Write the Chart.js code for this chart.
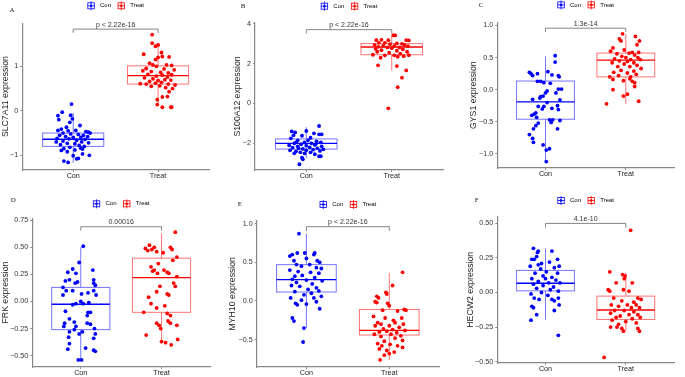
<!DOCTYPE html>
<html>
<head>
<meta charset="utf-8">
<script src="https://cdn.jsdelivr.net/npm/chart.js@4/dist/chart.umd.min.js"></script>
<style>
html, body { margin: 0; padding: 0; background: #fff; overflow: hidden; }
#wrap { position: relative; width: 685px; height: 377px; overflow: hidden; background: #fff; }
canvas { position: absolute; }
</style>
</head>
<body>
<div id="wrap"></div>
<script>
// groups and panel texts
const groups = ['Con', 'Treat'];
const letters = ['A', 'B', 'C', 'D', 'E', 'F'];
const genes = ['SLC7A11', 'S100A12', 'GYS1', 'FRK', 'MYH10', 'HECW2'];
const pLabels = ['p < 2.22e-16', 'p < 2.22e-16', '1.3e-14', '0.00016', 'p < 2.22e-16', '4.1e-10'];

// y axes
const yTicks = [[-1, 0, 1], [-2, 0, 2, 4], [-1, -0.5, 0, 0.5, 1], [-0.5, -0.25, 0, 0.25, 0.5, 0.75], [-0.5, 0, 0.5, 1], [-0.5, -0.25, 0, 0.25, 0.5]];
const yDecimals = [0, 0, 1, 2, 1, 2];
const yRange = [[-1.33, 1.97], [-3.34, 4.05], [-1.22, 1.05], [-0.605, 0.77], [-0.853, 1.04], [-0.51, 0.55]];
// bracket level and end of its little legs
const bracketY = [[1.835, 1.75], [3.71, 3.51], [0.958, 0.9], [0.69, 0.655], [0.96, 0.905], [0.5, 0.47]];

// box stats: [lower whisker, q1, median, q3, upper whisker] for Con, Treat
const boxA = [[-1.17, -0.80, -0.64, -0.50, -0.05], [0.11, 0.60, 0.79, 1.01, 1.52]];
const boxB = [[-2.75, -2.29, -2.0, -1.78, -1.19], [1.66, 2.45, 2.84, 3.01, 3.43]];
const boxC = [[-1.13, -0.46, -0.19, 0.135, 0.52], [-0.22, 0.20, 0.46, 0.57, 0.865]];
const boxD = [[-0.55, -0.26, -0.025, 0.13, 0.50], [-0.39, -0.10, 0.22, 0.40, 0.63]];
const boxE = [[-0.35, 0.116, 0.276, 0.47, 0.87], [-0.76, -0.44, -0.38, -0.11, 0.36]];
const boxF = [[-0.197, 0.012, 0.067, 0.16, 0.32], [-0.28, -0.195, -0.127, -0.026, 0.14]];

// jittered samples: [jitter offset, value]
const conA = [[-0.02,0.15],[-0.13,-0.03],[-0.18,-0.11],[-0.17,-0.20],[-0.03,-0.10],[-0.01,-0.18],[-0.04,-0.26],[0.08,-0.33],[-0.08,-0.37],[-0.14,-0.41],[-0.18,-0.44],[-0.06,-0.45],[0.03,-0.44],[0.15,-0.47],[0.18,-0.48],[0.2,-0.50],[-0.12,-0.50],[-0.03,-0.52],[0.06,-0.53],[0.12,-0.55],[-0.16,-0.55],[-0.09,-0.58],[0.0,-0.60],[0.09,-0.60],[0.17,-0.58],[-0.19,-0.62],[-0.05,-0.63],[0.04,-0.66],[0.14,-0.64],[-0.12,-0.68],[-0.2,-0.70],[0.1,-0.70],[0.18,-0.72],[-0.07,-0.73],[0.02,-0.74],[-0.15,-0.76],[0.07,-0.78],[0.13,-0.80],[-0.04,-0.82],[-0.11,-0.85],[0.11,-0.86],[-0.14,-0.89],[-0.07,-0.92],[0.02,-0.88],[0.09,-0.84],[0.11,-0.97],[0.19,-1.0],[0.0,-1.01],[0.04,-1.08],[0.06,-1.07],[-0.11,-1.13],[-0.06,-1.16]];
const treatA = [[-0.07,1.71],[-0.07,1.52],[0.0,1.48],[-0.03,1.45],[0.04,1.31],[-0.17,1.27],[0.0,1.20],[0.05,1.22],[0.13,1.21],[-0.03,1.15],[-0.1,1.07],[-0.06,1.03],[0.1,1.03],[0.16,1.02],[-0.02,1.0],[-0.14,0.95],[0.07,0.94],[0.19,0.92],[-0.18,0.9],[-0.08,0.88],[0.03,0.86],[0.12,0.85],[-0.12,0.82],[0.05,0.8],[0.16,0.81],[-0.02,0.78],[0.11,0.76],[-0.16,0.74],[-0.06,0.72],[0.08,0.7],[0.0,0.68],[0.15,0.69],[-0.1,0.66],[0.04,0.64],[-0.21,0.61],[-0.14,0.6],[-0.03,0.62],[0.12,0.6],[0.2,0.58],[0.02,0.56],[-0.08,0.55],[0.09,0.52],[0.17,0.5],[0.13,0.43],[0.05,0.31],[0.11,0.32],[-0.01,0.25],[-0.01,0.14],[0.05,0.08],[0.15,0.08],[0.16,0.08]];
const conB = [[0.15,-1.13],[0.0,-1.38],[-0.17,-1.40],[-0.13,-1.45],[-0.15,-1.6],[0.09,-1.5],[0.15,-1.55],[0.18,-1.55],[-0.05,-1.62],[-0.18,-1.75],[0.05,-1.72],[-0.1,-1.85],[0.02,-1.85],[0.12,-1.9],[-0.02,-1.95],[0.17,-1.95],[-0.14,-2.0],[-0.06,-2.05],[0.06,-2.0],[-0.2,-2.1],[0.1,-2.08],[0.0,-2.12],[-0.1,-2.15],[0.18,-2.15],[-0.16,-2.22],[0.04,-2.2],[-0.04,-2.28],[0.13,-2.25],[-0.19,-2.35],[0.08,-2.32],[-0.12,-2.4],[0.0,-2.35],[0.16,-2.38],[-0.07,-2.45],[0.05,-2.45],[-0.14,-2.5],[0.1,-2.55],[-0.02,-2.5],[0.15,-2.65],[0.17,-2.65],[-0.05,-2.72],[-0.04,-2.8],[-0.08,-3.05],[-0.12,-1.95],[0.2,-2.3],[-0.09,-2.25],[0.11,-2.05]];
const treatB = [[0.02,3.43],[0.04,3.42],[-0.18,3.18],[-0.12,3.2],[-0.04,3.18],[0.17,3.18],[0.2,3.17],[-0.15,3.05],[-0.08,3.05],[0.06,3.02],[0.12,3.0],[-0.2,2.95],[-0.02,2.98],[0.15,2.95],[-0.1,2.9],[0.03,2.9],[0.19,2.88],[-0.16,2.85],[-0.05,2.82],[0.09,2.82],[-0.19,2.75],[0.0,2.78],[0.13,2.72],[-0.12,2.68],[0.06,2.65],[-0.17,2.6],[0.18,2.6],[-0.03,2.55],[0.1,2.5],[-0.22,2.45],[-0.08,2.42],[0.03,2.42],[0.2,2.43],[0.14,2.38],[-0.13,2.3],[0.07,2.35],[-0.16,1.92],[0.06,1.88],[0.17,1.66],[0.12,1.3],[0.07,0.82],[-0.04,-0.24]];
const conC = [[0.12,0.53],[0.12,0.43],[-0.2,0.27],[-0.18,0.25],[-0.16,0.22],[-0.1,0.25],[0.03,0.28],[0.08,0.23],[0.16,0.22],[0.17,0.2],[-0.1,0.13],[-0.06,0.13],[-0.02,0.11],[0.2,0.01],[0.16,0.01],[0.02,-0.02],[-0.06,-0.11],[-0.07,-0.13],[-0.16,-0.15],[-0.03,-0.1],[0.18,-0.16],[-0.02,-0.26],[0.02,-0.2],[-0.09,-0.26],[0.08,-0.29],[0.15,-0.25],[0.16,-0.31],[-0.14,-0.38],[-0.12,-0.36],[-0.11,-0.43],[0.05,-0.47],[0.09,-0.47],[0.07,-0.51],[0.18,-0.48],[-0.09,-0.52],[-0.12,-0.56],[-0.15,-0.61],[0.15,-0.61],[-0.2,-0.7],[-0.16,-0.76],[-0.15,-0.82],[-0.03,-0.86],[0.01,-0.94],[0.05,-0.92],[0.01,-1.12],[0.0,-0.05],[-0.04,-0.3],[0.13,-0.05],[-0.17,-0.4],[0.06,0.1]];
const treatC = [[-0.04,0.87],[0.12,0.83],[-0.08,0.79],[-0.06,0.76],[0.17,0.76],[0.14,0.7],[-0.16,0.65],[-0.02,0.62],[0.08,0.58],[-0.19,0.6],[0.04,0.57],[0.16,0.58],[-0.11,0.56],[0.11,0.54],[-0.05,0.52],[0.0,0.5],[0.15,0.5],[-0.14,0.48],[0.06,0.47],[-0.08,0.45],[0.18,0.47],[0.02,0.44],[-0.17,0.42],[0.1,0.42],[-0.02,0.4],[0.14,0.38],[-0.1,0.36],[0.05,0.36],[0.19,0.33],[-0.06,0.3],[0.1,0.29],[-0.15,0.27],[0.02,0.26],[0.13,0.24],[-0.09,0.22],[-0.2,0.2],[0.06,0.2],[-0.16,0.16],[0.05,0.17],[-0.03,0.14],[0.08,0.13],[0.11,0.11],[0.11,0.05],[-0.16,0.0],[0.02,-0.07],[-0.03,-0.10],[0.16,-0.18],[-0.24,-0.22]];
const conD = [[0.03,0.51],[-0.02,0.36],[-0.1,0.3],[-0.16,0.27],[-0.06,0.26],[0.15,0.29],[0.16,0.2],[-0.19,0.19],[-0.14,0.2],[-0.07,0.17],[-0.04,0.18],[0.16,0.17],[0.18,0.15],[-0.22,0.13],[-0.18,0.1],[-0.1,0.1],[0.01,0.07],[0.09,0.08],[0.16,0.1],[0.19,0.06],[-0.22,0.06],[0.0,0.0],[-0.06,-0.02],[-0.1,-0.03],[0.03,-0.02],[0.1,-0.01],[-0.19,-0.09],[0.09,-0.1],[0.12,-0.1],[0.08,-0.13],[-0.14,-0.16],[-0.08,-0.19],[-0.2,-0.2],[-0.21,-0.23],[0.08,-0.2],[0.12,-0.21],[-0.06,-0.23],[0.17,-0.25],[-0.08,-0.26],[-0.14,-0.28],[-0.02,-0.3],[0.02,-0.28],[0.18,-0.3],[-0.15,-0.33],[-0.16,-0.44],[-0.14,-0.39],[0.16,-0.34],[0.06,-0.43],[0.16,-0.45],[0.18,-0.46],[-0.03,-0.54],[0.01,-0.54]];
const treatD = [[0.17,0.64],[-0.15,0.52],[-0.2,0.49],[-0.17,0.47],[-0.12,0.48],[-0.09,0.5],[-0.06,0.46],[0.11,0.5],[0.13,0.48],[0.02,0.45],[0.19,0.41],[-0.13,0.32],[-0.09,0.29],[-0.11,0.28],[0.03,0.29],[0.07,0.27],[0.09,0.26],[0.19,0.23],[-0.05,0.26],[0.15,0.17],[0.17,0.14],[-0.02,0.14],[-0.06,0.09],[0.07,0.07],[0.09,0.06],[-0.13,-0.02],[-0.06,-0.06],[-0.22,-0.1],[0.07,-0.11],[0.11,-0.13],[0.08,-0.18],[-0.06,-0.2],[-0.03,-0.22],[-0.01,-0.25],[0.11,-0.2],[0.19,-0.22],[-0.19,-0.31],[0.0,-0.37],[0.05,-0.38],[0.12,-0.4],[0.2,-0.35],[-0.16,0.04],[0.14,0.38],[-0.04,0.35],[0.04,-0.04]];
const conE = [[-0.09,0.87],[-0.17,0.6],[-0.11,0.62],[-0.02,0.62],[0.1,0.62],[0.09,0.6],[-0.2,0.58],[0.0,0.55],[-0.15,0.52],[0.13,0.52],[0.16,0.5],[-0.12,0.47],[-0.06,0.45],[0.04,0.47],[0.12,0.43],[0.18,0.42],[-0.2,0.4],[-0.1,0.38],[0.05,0.37],[0.15,0.36],[-0.14,0.32],[-0.05,0.33],[0.1,0.3],[-0.17,0.28],[0.0,0.27],[0.19,0.26],[-0.12,0.24],[0.07,0.22],[-0.18,0.2],[-0.08,0.19],[0.12,0.17],[0.02,0.15],[-0.14,0.12],[0.15,0.13],[0.06,0.1],[-0.03,0.08],[0.18,0.06],[-0.19,0.04],[0.09,0.04],[-0.06,0.01],[0.12,-0.01],[-0.13,-0.03],[-0.11,-0.05],[0.0,-0.04],[0.16,-0.1],[-0.17,-0.22],[-0.15,-0.26],[-0.03,-0.35],[-0.04,-0.53]];
const treatE = [[0.16,0.37],[0.04,0.2],[-0.15,0.06],[-0.13,0.04],[-0.04,0.11],[-0.03,0.09],[-0.17,-0.01],[-0.15,-0.02],[-0.02,-0.03],[0.0,-0.06],[-0.08,-0.12],[0.18,-0.11],[0.2,-0.12],[0.1,-0.13],[-0.19,-0.2],[-0.05,-0.22],[0.15,-0.22],[0.05,-0.25],[-0.14,-0.28],[-0.1,-0.3],[0.07,-0.28],[0.17,-0.3],[-0.17,-0.32],[0.0,-0.32],[0.12,-0.34],[-0.07,-0.36],[0.04,-0.37],[0.19,-0.38],[-0.12,-0.4],[-0.03,-0.39],[0.09,-0.41],[-0.18,-0.43],[0.02,-0.43],[0.14,-0.45],[-0.1,-0.46],[0.07,-0.48],[0.16,-0.51],[-0.06,-0.52],[-0.14,-0.55],[0.01,-0.56],[-0.09,-0.58],[0.1,-0.58],[-0.12,-0.62],[0.16,-0.6],[-0.03,-0.64],[0.06,-0.66],[-0.06,-0.7],[0.0,-0.68],[-0.11,-0.76]];
const conF = [[-0.15,0.32],[-0.09,0.3],[0.08,0.3],[-0.1,0.29],[-0.17,0.24],[-0.14,0.24],[-0.11,0.26],[-0.09,0.2],[-0.05,0.21],[0.05,0.22],[0.15,0.24],[0.17,0.19],[-0.19,0.19],[-0.06,0.17],[0.11,0.18],[0.01,0.15],[-0.13,0.14],[0.15,0.14],[-0.03,0.12],[0.08,0.11],[-0.17,0.1],[0.0,0.1],[0.13,0.09],[-0.09,0.08],[0.04,0.07],[0.18,0.07],[-0.15,0.06],[-0.03,0.05],[0.1,0.04],[-0.11,0.03],[0.06,0.02],[0.16,0.01],[-0.18,-0.01],[-0.05,0.0],[0.03,-0.02],[0.16,-0.04],[-0.14,-0.04],[0.08,-0.05],[0.11,-0.06],[-0.08,-0.05],[-0.17,-0.1],[-0.15,-0.11],[0.17,-0.09],[0.11,-0.13],[-0.11,-0.16],[-0.18,-0.2],[0.16,-0.31]];
const treatF = [[0.06,0.45],[-0.2,0.15],[-0.04,0.13],[-0.02,0.1],[-0.01,0.12],[-0.12,0.07],[0.08,0.07],[-0.22,0.02],[-0.2,0.01],[0.04,0.01],[-0.03,0.02],[-0.15,-0.04],[0.15,-0.04],[0.19,-0.05],[-0.05,-0.06],[0.1,-0.07],[-0.18,-0.09],[0.02,-0.09],[0.13,-0.09],[-0.09,-0.1],[0.07,-0.11],[0.17,-0.11],[-0.14,-0.13],[-0.02,-0.13],[0.1,-0.14],[-0.19,-0.15],[0.04,-0.16],[0.15,-0.16],[-0.07,-0.17],[-0.12,-0.18],[0.08,-0.19],[0.18,-0.18],[-0.17,-0.2],[0.0,-0.21],[-0.09,-0.23],[0.13,-0.22],[-0.19,-0.25],[-0.11,-0.25],[-0.05,-0.26],[0.15,-0.26],[-0.03,-0.28],[0.17,-0.28],[-0.27,-0.47]];

const boxes = [boxA, boxB, boxC, boxD, boxE, boxF];
const samples = [[conA, treatA], [conB, treatB], [conC, treatC], [conD, treatD], [conE, treatE], [conF, treatF]];

// look
const colors = ['#0000ff', '#ff0000'];
const edgeColors = ['rgba(70,70,255,0.75)', 'rgba(255,70,70,0.75)'];
const axisColor = '#888';
const boxW = 0.72;
const fam = '"Liberation Sans", Arial, sans-serif';
const legFont = 6, legPad = 6.5, xH = 14;

// where each plot area sits on the page
const frames = [
	{ l: 22.3, r: 213, t: 23.3, b: 170, yW: 22.3, legC: 6, letX: 12, letY: 10.7 },
	{ l: 255, r: 446.7, t: 22.7, b: 169.3, yW: 22.7, legC: 6, letX: 243, letY: 6 },
	{ l: 497.3, r: 678, t: 22.7, b: 168.3, yW: 29.4, legC: 5.3, letX: 481, letY: 5.3 },
	{ l: 32.3, r: 214.3, t: 218.3, b: 366.7, yW: 32.3, legC: 204, letX: 13.3, letY: 200.7 },
	{ l: 256.7, r: 443.3, t: 220, b: 366.7, yW: 29.8, legC: 204, letX: 240, letY: 204 },
	{ l: 497.3, r: 678, t: 216.7, b: 363.3, yW: 32.7, legC: 200.7, letX: 476.7, letY: 200 }
];

const wrap = document.getElementById('wrap');

function makePanel(i) {
	const f = frames[i];
	const itemH = Math.max(legFont, 2 * (f.t - f.legC - 10));
	const legH = itemH + legPad + 10;
	const cl = Math.round(f.l - f.yW);
	const ct = f.t - legH;
	const cw = Math.round(f.r - cl);
	const ch = Math.round(f.b + xH - ct);
	const yWidth = f.l - cl;

	const cv = document.createElement('canvas');
	cv.width = cw; cv.height = ch;
	cv.style.left = cl + 'px';
	cv.style.top = ct + 'px';
	wrap.appendChild(cv);

	const decorations = {
		id: 'decor' + i,
		beforeDatasetsDraw(chart) {
			const { ctx, scales: { x, y } } = chart;
			boxes[i].forEach((st, g) => {
				const x0 = x.getPixelForValue(g + 1 - boxW / 2);
				const x1 = x.getPixelForValue(g + 1 + boxW / 2);
				const xc = x.getPixelForValue(g + 1);
				const [lo, q1, md, q3, hi] = st.map(v => y.getPixelForValue(v));
				ctx.save();
				ctx.strokeStyle = edgeColors[g];
				ctx.lineWidth = 1;
				ctx.beginPath();
				ctx.moveTo(xc, q3); ctx.lineTo(xc, hi);
				ctx.moveTo(xc, q1); ctx.lineTo(xc, lo);
				ctx.stroke();
				ctx.strokeRect(x0, q3, x1 - x0, q1 - q3);
				ctx.strokeStyle = colors[g];
				ctx.lineWidth = 1.4;
				ctx.beginPath();
				ctx.moveTo(x0, md); ctx.lineTo(x1, md);
				ctx.stroke();
				ctx.restore();
			});
		},
		afterDraw(chart) {
			const { ctx, scales: { x, y } } = chart;
			ctx.save();
			// p value bracket
			const bx1 = x.getPixelForValue(1), bx2 = x.getPixelForValue(2);
			const by = y.getPixelForValue(bracketY[i][0]), byl = y.getPixelForValue(bracketY[i][1]);
			ctx.strokeStyle = '#777';
			ctx.lineWidth = 0.9;
			ctx.beginPath();
			ctx.moveTo(bx1, byl); ctx.lineTo(bx1, by); ctx.lineTo(bx2, by); ctx.lineTo(bx2, byl);
			ctx.stroke();
			ctx.fillStyle = '#333';
			ctx.font = '7px ' + fam;
			ctx.textAlign = 'center';
			ctx.textBaseline = 'middle';
			ctx.fillText(pLabels[i], (bx1 + bx2) / 2, by - 4.3);
			// panel letter
			ctx.fillStyle = '#222';
			ctx.font = '7px "Liberation Serif", serif';
			ctx.fillText(letters[i], f.letX - cl, f.letY - ct);
			// legend glyphs
			chart.legend.legendHitBoxes.forEach((hb, k) => {
				const cx = hb.left + 3.5, cy = hb.top + hb.height / 2;
				ctx.strokeStyle = colors[k];
				ctx.fillStyle = colors[k];
				ctx.lineWidth = 0.8;
				ctx.strokeRect(hb.left + 0.5, cy - 3, 6.5, 6);
				ctx.beginPath();
				ctx.moveTo(hb.left + 0.5, cy); ctx.lineTo(hb.left + 7, cy);
				ctx.moveTo(cx + 0.25, cy - 4.5); ctx.lineTo(cx + 0.25, cy + 4.5);
				ctx.stroke();
				ctx.beginPath();
				ctx.arc(cx + 0.25, cy, 1.3, 0, Math.PI * 2);
				ctx.fill();
			});
			ctx.restore();
		}
	};

	new Chart(cv, {
		type: 'scatter',
		data: {
			datasets: groups.map((g, k) => ({
				label: g,
				data: samples[i][k].map(p => ({ x: k + 1 + p[0], y: p[1] })),
				backgroundColor: colors[k],
				borderWidth: 0,
				pointRadius: 1.9
			}))
		},
		options: {
			responsive: false,
			devicePixelRatio: 1,
			animation: false,
			events: [],
			layout: { padding: 0 },
			plugins: {
				tooltip: { enabled: false },
				legend: {
					display: true,
					position: 'top',
					fullSize: false,
					onClick: null,
					labels: {
						font: { size: legFont, family: fam },
						color: '#333',
						boxWidth: 9.7,
						boxHeight: itemH,
						padding: legPad,
						generateLabels: () => groups.map((g, k) => ({
							text: g,
							fillStyle: 'rgba(0,0,0,0)',
							strokeStyle: 'rgba(0,0,0,0)',
							lineWidth: 0,
							hidden: false,
							datasetIndex: k
						}))
					}
				}
			},
			scales: {
				x: {
					type: 'linear',
					min: 0.4,
					max: 2.6,
					afterBuildTicks: s => { s.ticks = groups.map((g, k) => ({ value: k + 1 })); },
					afterFit: s => { s.height = xH; },
					ticks: {
						callback: v => groups[v - 1],
						font: { size: 7.2, family: fam },
						color: '#222',
						padding: 0,
						maxRotation: 0
					},
					grid: { drawOnChartArea: false, drawTicks: true, tickLength: 2, color: axisColor },
					border: { color: axisColor, width: 1.2 }
				},
				y: {
					min: yRange[i][0],
					max: yRange[i][1],
					afterBuildTicks: s => { s.ticks = yTicks[i].map(v => ({ value: v })); },
					afterFit: s => { s.width = yWidth; },
					ticks: {
						callback: v => v.toFixed(yDecimals[i]).replace('-', '\u2212'),
						font: { size: 7.2, family: fam },
						color: '#333',
						padding: 2
					},
					title: {
						display: true,
						text: genes[i] + ' expression',
						font: { size: 8.7, family: fam },
						color: '#222',
						padding: 0
					},
					grid: { drawOnChartArea: false, drawTicks: true, tickLength: 2, color: axisColor },
					border: { color: axisColor, width: 1.2 }
				}
			}
		},
		plugins: [decorations]
	});
}

for (let i = 0; i < 6; i++) makePanel(i);
</script>
</body>
</html>
